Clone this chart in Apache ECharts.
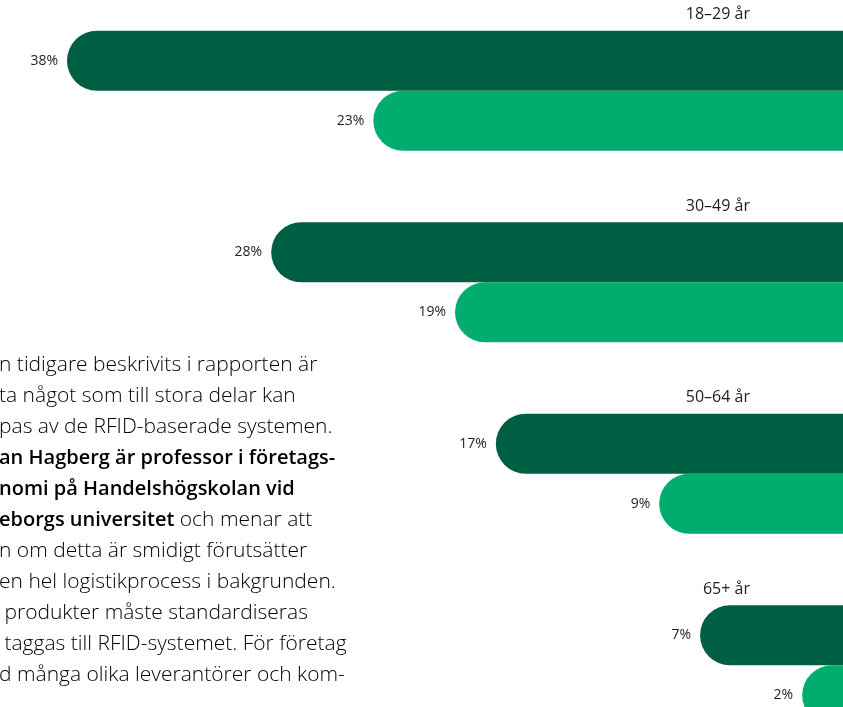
<!DOCTYPE html>
<html>
<head>
<meta charset="utf-8">
<script src="https://cdn.jsdelivr.net/npm/echarts@6/dist/echarts.min.js"></script>
<style>
  html, body { margin: 0; padding: 0; background: #ffffff; overflow: hidden; width: 843px; height: 707px; }
  /* the chart canvas is taller than the page: the last group runs past the bottom edge */
  #chart { width: 843px; height: 780px; margin-top: -5px; }
</style>
</head>
<body>
<div id="chart"></div>
<script>
// Age groups (top to bottom) and the two survey shares per group, in percent
const ageGroups = ['18–29 år', '30–49 år', '50–64 år', '65+ år'];
const shareDark = [38, 28, 17, 7];
const shareLight = [23, 19, 9, 2];

// Body copy running beside the chart (its left edge runs off the page)
const bodyLines = [
  [['r', 'n tidigare beskrivits i rapporten är']],
  [['r', 'ta något som till stora delar kan']],
  [['r', 'pas av de RFID-baserade systemen.']],
  [['b', 'an Hagberg är professor i företags-']],
  [['b', 'nomi på Handelshögskolan vid']],
  [['b', 'eborgs universitet'], ['r', ' och menar att']],
  [['r', 'n om detta är smidigt förutsätter']],
  [['r', 'en hel logistikprocess i bakgrunden.']],
  [['r', ' produkter måste standardiseras']],
  [['r', ' taggas till RFID-systemet. För företag']],
  [['r', 'd många olika leverantörer och kom-']]
];

const DARK = '#005e43';
const LIGHT = '#00ad6f';
const FONT = '"Open Sans", Lato, sans-serif';

const chart = echarts.init(document.getElementById('chart'), null, { renderer: 'canvas' });

// canvas is shifted up by 5px, so page y = canvas y - 5
const textGraphics = bodyLines.map((segs, i) => ({
  type: 'text',
  x: -1,
  y: 370 + i * 31,
  z: 10,
  style: {
    text: segs.map(s => '{' + s[0] + '|' + s[1] + '}').join(''),
    align: 'left',
    verticalAlign: 'middle',
    rich: {
      r: { fontFamily: FONT, fontSize: 21, fontWeight: 300, color: '#3a3a3a' },
      b: { fontFamily: FONT, fontSize: 20, fontWeight: 600, color: '#1e1e1e' }
    }
  }
}));

const valueLabel = {
  show: true,
  position: 'left',
  distance: 9,
  formatter: p => p.value + '%',
  fontFamily: FONT,
  fontSize: 14,
  color: '#1e1e1e'
};

chart.setOption({
  animation: false,
  backgroundColor: '#ffffff',
  grid: { left: 0, right: 0, top: 0, height: 766, containLabel: false },
  xAxis: {
    type: 'value',
    min: 0,
    max: 41.28,
    inverse: true,
    show: false
  },
  yAxis: {
    type: 'category',
    data: ageGroups,
    inverse: true,
    position: 'right',
    axisLine: { show: false, onZero: false },
    axisTick: { show: false },
    splitLine: { show: false },
    axisLabel: {
      inside: true,
      margin: 93,
      align: 'right',
      formatter: v => '{t|' + v + '}',
      rich: {
        t: { fontFamily: FONT, fontSize: 16, color: '#1e1e1e', padding: [0, 0, 152, 0] }
      }
    }
  },
  series: [
    {
      type: 'bar',
      data: shareDark,
      barWidth: 60,
      barGap: '0%',
      itemStyle: { color: DARK, borderRadius: [30, 0, 0, 30] },
      label: valueLabel
    },
    {
      type: 'bar',
      data: shareLight,
      barWidth: 60,
      barGap: '0%',
      itemStyle: { color: LIGHT, borderRadius: [30, 0, 0, 30] },
      label: valueLabel
    }
  ],
  graphic: textGraphics
});
</script>
</body>
</html>
